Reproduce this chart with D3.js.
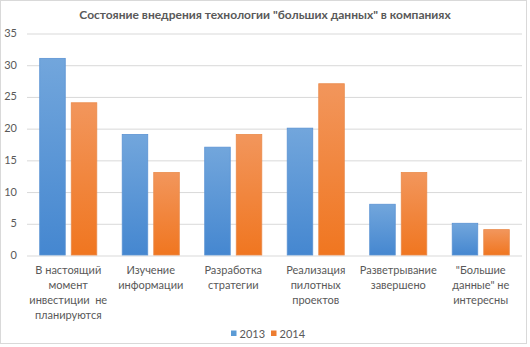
<!DOCTYPE html>
<html><head><meta charset="utf-8">
<script src="https://cdn.jsdelivr.net/npm/d3@7"></script>
<style>body{margin:0;background:#fff}svg{display:block}text{white-space:pre}</style>
</head><body>
<svg id="c" width="530" height="347"></svg>
<script>
const categories = [
  ["В настоящий", "момент", "инвестиции  не", "планируются"],
  ["Изучение", "информации"],
  ["Разработка", "стратегии"],
  ["Реализация", "пилотных", "проектов"],
  ["Разветрывание", "завершено"],
  ["\"Большие", "данные\" не", "интересны"]
];
const seriesNames = ["2013", "2014"];
const values2013 = [31, 19, 17, 20, 8, 5];
const values2014 = [24, 13, 19, 27, 13, 4];
const yTicks = [0, 5, 10, 15, 20, 25, 30, 35];
const title = "Состояние внедрения технологии \"больших данных\" в компаниях";

const font = "Lato, 'Open Sans', sans-serif";
const svg = d3.select("#c");
const defs = svg.append("defs");
const grads = [["gBlue", "#72a6dc", "#4587d0"], ["gOrange", "#f2965c", "#f07620"]];
grads.forEach(([id, a, b]) => {
  const g = defs.append("linearGradient").attr("id", id).attr("x1", 0).attr("y1", 0).attr("x2", 0).attr("y2", 1);
  g.append("stop").attr("offset", 0).attr("stop-color", a);
  g.append("stop").attr("offset", 1).attr("stop-color", b);
});
const strokes = ["#5b93d3", "#ea8a4a"];

svg.append("rect").attr("x", 0.5).attr("y", 0.5).attr("width", 526).attr("height", 343)
  .attr("fill", "#fff").attr("stroke", "#d9d9d9");

const L = 27, R = 522, T = 33, B = 255;
const x = d3.scaleBand().domain(d3.range(categories.length)).range([L, R]).paddingInner(0).paddingOuter(0);
const y = d3.scaleLinear().domain([0, 35]).range([B, T]);

svg.append("text").attr("x", 265).attr("y", 19).attr("text-anchor", "middle")
  .attr("font-family", font).attr("font-weight", "bold").attr("font-size", 12).attr("fill", "#595959")
  .text(title);

// grid
const yAxis = d3.axisLeft(y).tickValues(yTicks).tickSize(-(R - L)).tickPadding(10);
const ga = svg.append("g").attr("transform", `translate(${L},0)`).call(yAxis);
ga.select(".domain").remove();
ga.selectAll(".tick line").attr("stroke", "#d9d9d9").attr("stroke-width", 1)
  .attr("transform", "translate(0,0.5)");
ga.selectAll(".tick text").attr("font-family", font).attr("font-size", 11).attr("fill", "#595959");

const series = [values2013, values2014];
const bw = x.bandwidth();
const barW = bw / 3.23;
const gap = 6;
series.forEach((vals, si) => {
  svg.append("g").selectAll("rect").data(vals).join("rect")
    .attr("x", (d, i) => x(i) + bw / 2 + (si === 0 ? -gap / 2 - barW : gap / 2))
    .attr("y", d => y(d))
    .attr("width", barW)
    .attr("height", d => y(0) - y(d))
    .attr("fill", `url(#${grads[si][0]})`)
    .attr("stroke", strokes[si]).attr("stroke-width", 0.8);
});

// x labels
const xl = svg.append("g");
categories.forEach((lines, i) => {
  const t = xl.append("text").attr("text-anchor", "middle")
    .attr("font-family", font).attr("font-size", 11).attr("fill", "#595959");
  lines.forEach((ln, j) => {
    t.append("tspan").attr("x", x(i) + bw / 2).attr("y", 274 + j * 15).text(ln);
  });
});

// legend
const lg = svg.append("g");
const legendX = [231, 271];
seriesNames.forEach((n, i) => {
  lg.append("rect").attr("x", legendX[i]).attr("y", 330.5).attr("width", 5.5).attr("height", 5.5)
    .attr("fill", i === 0 ? "#5b9bd5" : "#ed7d31");
  lg.append("text").attr("x", legendX[i] + 8.5).attr("y", 337.5)
    .attr("font-family", font).attr("font-size", 11).attr("fill", "#595959").text(n);
});
</script>
</body></html>
